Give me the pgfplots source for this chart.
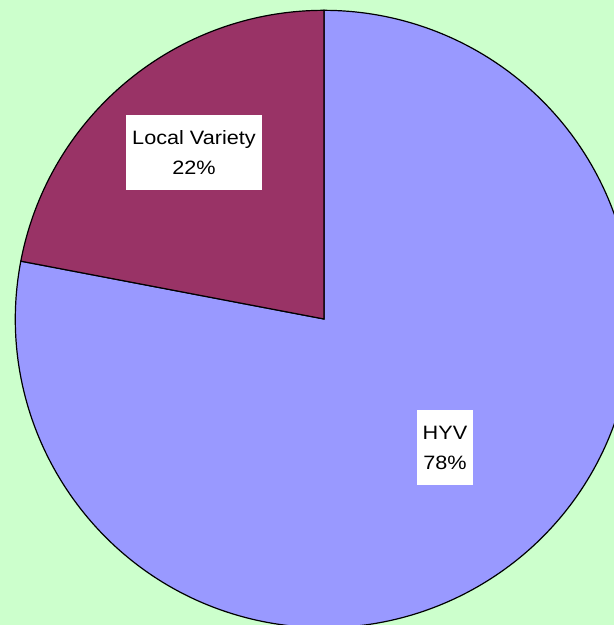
\documentclass[border=0pt]{standalone}
\usepackage{pgfplots}
\pgfplotsset{compat=1.18}
\usepackage{fontspec}
\setmainfont{Liberation Sans}
\definecolor{bg}{HTML}{CCFFCC}
\definecolor{localc}{HTML}{993366}
\definecolor{hyvc}{HTML}{9999FF}
% pie data (percent)
\def\valLocal{22}
\def\valHYV{78}
\begin{document}
\begin{tikzpicture}
\pgfmathsetmacro{\angA}{90+\valLocal*3.6}
\pgfmathsetmacro{\angB}{\angA+\valHYV*3.6}
\begin{axis}[x=0.75pt,y=0.75pt,xmin=0,xmax=614,ymin=0,ymax=625,
  hide axis, clip=true, scale only axis]
\fill[bg] (axis cs:0,0) rectangle (axis cs:614,625);
% HYV slice
\filldraw[fill=hyvc,draw=black,line width=0.9pt,line join=miter]
  (axis cs:324,306) -- ++(\angA:231.5pt) arc[start angle=\angA,end angle=\angB,radius=231.5pt] -- cycle;
% Local Variety slice
\filldraw[fill=localc,draw=black,line width=0.9pt,line join=miter]
  (axis cs:324,306) -- ++(90:231.5pt) arc[start angle=90,end angle=\angA,radius=231.5pt] -- cycle;
\node[fill=white,inner sep=0pt,minimum width=102pt,minimum height=56.25pt,align=center,
  font=\fontsize{14.5}{22.5}\selectfont] at (axis cs:194,472)
  {\scalebox{1.12}[1]{Local Variety}\\\scalebox{1.12}[1]{\valLocal\%}};
\node[fill=white,inner sep=0pt,minimum width=42pt,minimum height=56.25pt,align=center,
  font=\fontsize{14.5}{22.5}\selectfont] at (axis cs:445,177)
  {\scalebox{1.12}[1]{HYV}\\\scalebox{1.12}[1]{\valHYV\%}};
\end{axis}
\pgfresetboundingbox
\useasboundingbox (current axis.south west) rectangle (current axis.north east);
\end{tikzpicture}
\end{document}
